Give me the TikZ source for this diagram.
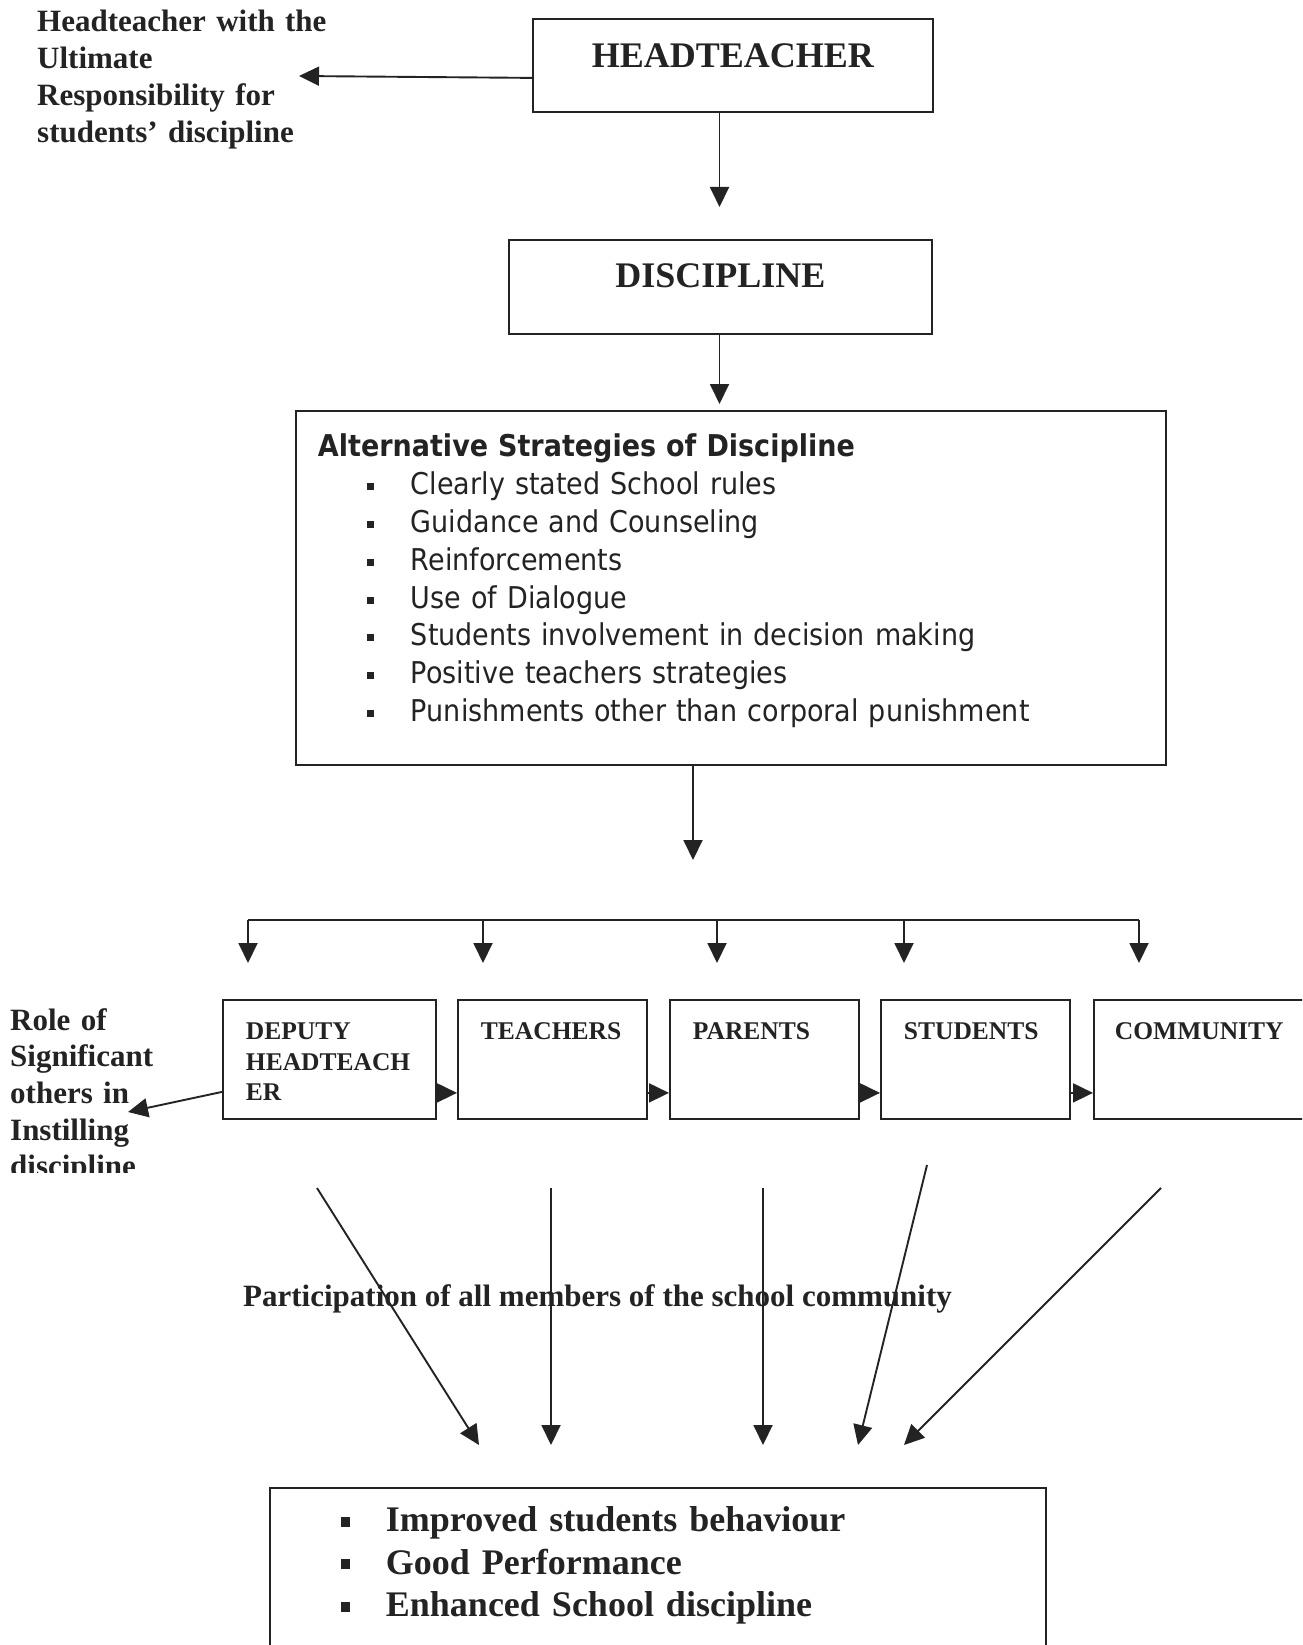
\documentclass[tikz,border=0pt]{standalone}
\usepackage{fontspec}
\setmainfont{Liberation Serif}
\newfontfamily\stratfont[FakeStretch=0.9]{DejaVu Sans}
\usetikzlibrary{arrows.meta}
\definecolor{ink}{RGB}{35,35,35}
\newcommand{\sbul}{\hspace*{49.5pt}\rule[4.5pt]{7pt}{7pt}\hspace*{36.5pt}}
\newcommand{\bbul}{\hspace*{71.5pt}\rule[5pt]{9pt}{10pt}\hspace*{35.5pt}}
\tikzset{
  box/.style={draw=ink, line width=1.9pt, inner sep=0pt, anchor=north west, text=ink},
  conn/.style={draw=ink, line width=1.9pt, -{Triangle[length=20pt,width=19pt]}},
  gapconn/.style={draw=ink, line width=1.9pt, -{Triangle[length=20pt,width=19pt]}},
  serif/.style={text=ink, font=\bfseries\fontsize{31}{36.7}\selectfont, inner sep=0pt, align=left},
  bigtitle/.style={font=\bfseries\fontsize{36}{40}\selectfont},
  smallbox/.style={box, minimum height=119pt, text height=40pt, text depth=79pt,
    inner xsep=23pt, align=left, font=\bfseries\fontsize{25.5}{30.5}\selectfont},
}
\begin{document}
\begin{tikzpicture}[x=1pt,y=-1pt]
\useasboundingbox (0,0) rectangle (1302,1645);
\clip (0,0) rectangle (1302,1645);

% top boxes
\node[box, bigtitle, minimum width=400pt, text height=49pt, text depth=44pt] (head) at (532,18) {HEADTEACHER};
\node[box, bigtitle, minimum width=423pt, text height=48pt, text depth=46pt] (disc) at (508,239) {DISCIPLINE};

\node[serif, text width=330pt, anchor=base west] (resp) at (37,32)
  {Headteacher with the\\Ultimate\\Responsibility for\\students’ discipline};

% strategies
\node[box, text width=826pt, inner xsep=22pt, align=left, text height=46pt, text depth=308pt,
  font=\stratfont\fontsize{30}{37.8}\selectfont] (strat) at (295,410)
  {\textbf{Alternative Strategies of Discipline}\\
   \sbul Clearly stated School rules\\
   \sbul Guidance and Counseling\\
   \sbul Reinforcements\\
   \sbul Use of Dialogue\\
   \sbul Students involvement in decision making\\
   \sbul Positive teachers strategies\\
   \sbul Punishments other than corporal punishment};

% free ends
\coordinate (htip) at (299,76);
\coordinate (t1) at (719.5,207);
\coordinate (t2) at (719.5,404);
\coordinate (t3) at (693,860);

\draw[conn] ([yshift=35pt]head.south west) -- (htip);
\draw[conn] (head.south -| t1) -- (t1);
\draw[conn] (disc.south -| t2) -- (t2);
\draw[conn] (strat.south -| t3) -- (t3);

% distribution
\coordinate (d1) at (248,920); \coordinate (e1) at (248,963);
\coordinate (d2) at (483,920); \coordinate (e2) at (483,963);
\coordinate (d3) at (717,920); \coordinate (e3) at (717,963);
\coordinate (d4) at (904,920); \coordinate (e4) at (904,963);
\coordinate (d5) at (1139,920); \coordinate (e5) at (1139,963);
\draw[draw=ink, line width=1.9pt] (d1) -- (d5);
\foreach \i in {1,...,5} { \draw[conn] (d\i) -- (e\i); }

% row of boxes
\node[smallbox, minimum width=213pt, text width=167pt] (dep) at (222,999) {DEPUTY\\HEADTEACH\\ER};
\node[smallbox, minimum width=189pt, text width=143pt] (tea) at (457,999) {TEACHERS};
\node[smallbox, minimum width=189pt, text width=143pt] (par) at (669,999) {PARENTS};
\node[smallbox, minimum width=189pt, text width=143pt] (stu) at (880,999) {STUDENTS};
\node[smallbox, minimum width=230pt, text width=188pt, inner xsep=21pt] (com) at (1093,999) {COMMUNITY};

\draw[gapconn] ([yshift=27pt]dep.south east) -- ([yshift=27pt]tea.south west);
\draw[gapconn] ([yshift=27pt]tea.south east) -- ([yshift=27pt]par.south west);
\draw[gapconn] ([yshift=27pt]par.south east) -- ([yshift=27pt]stu.south west);
\draw[gapconn] ([yshift=27pt]stu.south east) -- ([yshift=27pt]com.south west);

% role of significant others (cut at the bottom)
\begin{scope}
  \clip (0,980) rectangle (215,1172);
  \node[serif, text width=200pt, anchor=base west] (role) at (10,1030)
    {Role of\\Significant\\others in\\Instilling\\discipline};
\end{scope}
\coordinate (rtip) at (128,1112);
\draw[conn] ([yshift=28pt]dep.south west) -- (rtip);

% participation
\node[serif, anchor=base west] (part) at (243,1306)
  {Participation of all members of the school community};

\coordinate (s1) at (317,1188);  \coordinate (f1) at (479,1445);
\coordinate (s2) at (551,1188);  \coordinate (f2) at (551,1445);
\coordinate (s3) at (763,1188);  \coordinate (f3) at (763,1445);
\coordinate (s4) at (927,1165);  \coordinate (f4) at (858,1445);
\coordinate (s5) at (1161,1188); \coordinate (f5) at (904,1445);
\foreach \i in {1,...,5} { \draw[conn] (s\i) -- (f\i); }

% outcome box
\node[box, text width=776pt, align=left, text height=44pt, text depth=150pt,
  font=\bfseries\fontsize{36}{42.5}\selectfont] (out) at (269,1487)
  {\bbul Improved students behaviour\\
   \bbul Good Performance\\
   \bbul Enhanced School discipline};
\end{tikzpicture}
\end{document}
